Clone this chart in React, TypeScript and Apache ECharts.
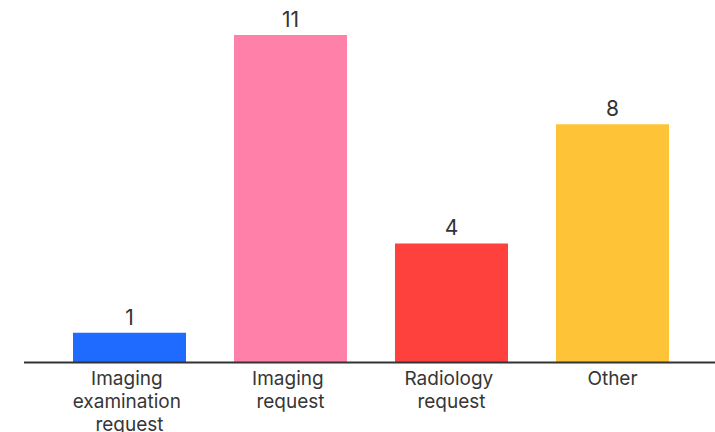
import React, { useEffect, useRef } from "react";
import * as echarts from "echarts";

const categories = ["Imaging examination request", "Imaging request", "Radiology request", "Other"];
const counts = [1, 11, 4, 8];
const barColors = ["#1F6BFF", "#FF80A9", "#FF413D", "#FFC337"];

export default function App() {
  const ref = useRef<HTMLDivElement>(null);
  useEffect(() => {
    if (!ref.current) return;
    const chart = echarts.init(ref.current, null, { renderer: "svg" });
    const font = "Inter, 'Noto Sans', sans-serif";
    chart.setOption({
      animation: false,
      backgroundColor: "#ffffff",
      grid: { left: 49, width: 644, top: 35, height: 327.5, containLabel: false, outerBoundsMode: "none" },
      xAxis: {
        type: "category",
        data: categories,
        axisLine: { show: false },
        axisTick: { show: false },
        axisLabel: {
          interval: 0,
          margin: 4,
          color: "#363636",
          fontSize: 19,
          lineHeight: 23,
          fontFamily: font,
          width: 118,
          overflow: "break",
        },
      },
      yAxis: { type: "value", min: 0, max: 11, show: false, splitLine: { show: false } },
      series: [
        {
          type: "bar",
          barWidth: 113,
          data: counts.map((v, i) => ({ value: v, itemStyle: { color: barColors[i] } })),
          label: {
            show: true,
            position: "top",
            distance: 5,
            color: "#333333",
            fontSize: 21,
            fontFamily: font,
          },
        },
      ],
      graphic: [
        {
          type: "line",
          shape: { x1: 24, y1: 362.5, x2: 715, y2: 362.5 },
          style: { stroke: "#333333", lineWidth: 2 },
          z: 100,
        },
      ],
    });
    return () => chart.dispose();
  }, []);
  return <div ref={ref} style={{ position: "fixed", left: 0, top: 0, width: 715, height: 432 }} />;
}
